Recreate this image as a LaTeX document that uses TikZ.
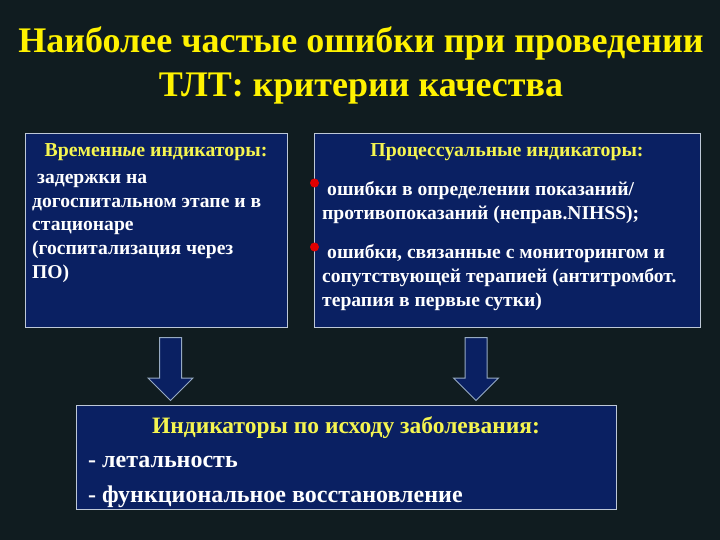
\documentclass[tikz,border=0pt]{standalone}
\usepackage{fontspec}
\setmainfont{Liberation Serif}
\usetikzlibrary{shapes.arrows}

\definecolor{slidebg}{RGB}{16,28,32}
\definecolor{boxblue}{RGB}{10,32,98}
\definecolor{boxline}{RGB}{190,200,215}
\definecolor{arrowline}{RGB}{150,170,195}
\definecolor{headyellow}{RGB}{245,245,80}
\definecolor{dotred}{RGB}{225,0,0}

\begin{document}
\begin{tikzpicture}
  [
    x = 1pt, y = -1pt,
    every node/.style = {inner sep=0pt, text=white},
    titleline/.style  = {anchor=base, text=yellow, font=\fontsize{36}{40}\selectfont\bfseries},
    panel/.style      = {draw=boxline, line width=1.3pt, fill=boxblue, anchor=north west},
    heading/.style    = {text=headyellow, anchor=base, font=\fontsize{19.8}{23}\selectfont\bfseries},
    body/.style       = {align=left, anchor=base west, font=\fontsize{19.6}{23.6}\selectfont\bfseries},
    bigline/.style    = {anchor=base west, font=\fontsize{24}{28}\selectfont\bfseries},
    bullet/.style     = {circle, fill=dotred, minimum size=9pt},
    downarrow/.style  = {
      single arrow, draw=arrowline, fill=boxblue, line width=1pt,
      rotate=-90, anchor=tail,
      minimum height=63pt, minimum width=44pt,
      single arrow head extend=11.5pt, inner sep=10.5pt
    }
  ]
  \useasboundingbox[fill=slidebg] (0,0) rectangle (720,540);

  % title
  \node (title1) [titleline] at (361,53) {Наиболее частые ошибки при проведении};
  \node (title2) [titleline] at (361,97) {ТЛТ: критерии качества};

  % panels
  \node (timebox) [panel, minimum width=262pt, minimum height=194pt] at (25,133) {};
  \node (procbox) [panel, minimum width=386pt, minimum height=194pt] at (314,133) {};
  \node (outbox)  [panel, minimum width=540pt, minimum height=104pt] at (76,405) {};

  % time indicators (base = last line)
  \node (timehead) [heading] at (156,157) {Временн\textit{ы}е индикаторы:};
  \node (timetext) [body] at (32,278) {\hspace*{5pt}задержки на\\
    догоспитальном этапе и в\\
    стационаре\\
    (госпитализация через\\
    ПО)};

  % process indicators
  \node (prochead) [heading] at (507,157) {Процессуальные индикаторы:};
  \node (dot1) [bullet] at (314.5,183) {};
  \node (proctext1) [body] at (322,219) {\hspace*{5pt}ошибки в определении показаний/\\
    противопоказаний (неправ.NIHSS);};
  \node (dot2) [bullet] at (314.5,247) {};
  \node (proctext2) [body] at (322,306) {\hspace*{5pt}ошибки, связанные с мониторингом и\\
    сопутствующей терапией (антитромбот.\\
    терапия в первые сутки)};

  % outcome indicators
  \node (outhead) [heading, font=\fontsize{23.5}{28}\selectfont\bfseries] at (346,433) {Индикаторы по исходу заболевания:};
  \node (outline1) [bigline] at (88,467) {- летальность};
  \node (outline2) [bigline] at (88,502) {- функциональное восстановление};

  % arrows
  \node (arrowL) [downarrow] at (170.5,337) {};
  \node (arrowR) [downarrow] at (476,337) {};
\end{tikzpicture}
\end{document}
